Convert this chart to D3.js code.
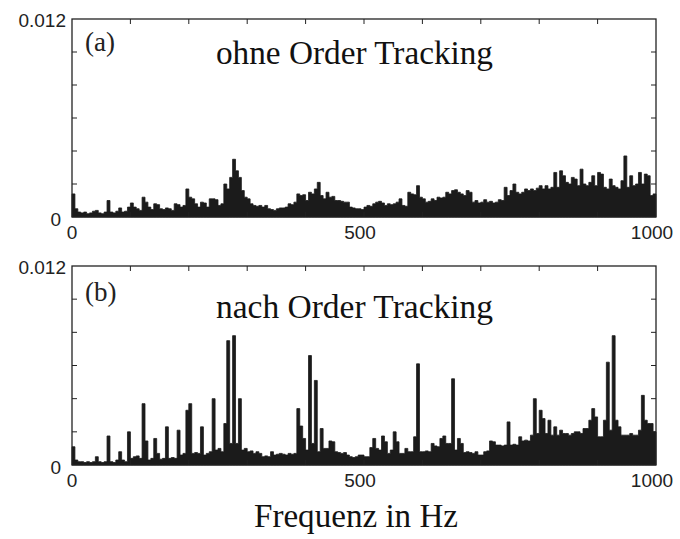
<!DOCTYPE html>
<html lang="de">
<head>
  <meta charset="UTF-8">
  <title>Spektrum ohne / nach Order Tracking</title>
  <script src="https://d3js.org/d3.v7.min.js"></script>
  <style>
    body { margin: 0; background: #fff; }
    .tick-label { font-family: "Liberation Sans", Arial, sans-serif; font-size: 19px; fill: #222; }
    .title { font-family: "Liberation Serif", "Times New Roman", serif; font-size: 33px; fill: #111; }
    .panel-tag { font-family: "Liberation Serif", "Times New Roman", serif; font-size: 27px; fill: #222; }
  </style>
</head>
<body>
  <svg width="680" height="539"></svg>

  <script>
    // frequency grid (Hz), one amplitude value per 5 Hz bin
    const freqStep = 5;
    const freqs = d3.range(0, 1000, freqStep);

    // amplitudes, in units of 1e-3
    // (a) ohne Order Tracking
    const ampWithout = [
      1.4, 0.5, 0.3, 0.25, 0.3, 0.2, 0.25, 0.35, 0.4, 0.25,
      0.2, 0.3, 1.0, 0.3, 0.25, 0.35, 0.55, 0.3, 0.35, 0.6,
      0.85, 0.6, 0.5, 0.4, 1.2, 0.9, 0.6, 0.45, 0.8, 0.75,
      0.5, 0.45, 0.55, 0.5, 0.4, 0.8, 0.75, 0.6, 0.7, 1.7,
      1.2, 1.1, 0.8, 0.6, 0.9, 0.85, 0.6, 1.1, 1.1, 1.05,
      0.7, 0.8, 2.0, 1.7, 2.4, 3.5, 2.8, 2.4, 1.6, 1.2,
      1.1, 0.8, 0.7, 0.65, 0.7, 0.6, 0.7, 0.5, 0.45, 0.4,
      0.5, 0.55, 0.55, 0.6, 0.8, 0.75, 0.9, 1.4, 1.3, 1.35,
      1.0, 1.5, 1.4, 1.7, 2.1, 1.3, 1.1, 1.5, 1.2, 1.25,
      1.0, 1.0, 0.95, 0.9, 0.9, 0.6, 0.55, 0.5, 0.5, 0.45,
      0.6, 0.7, 0.65, 0.8, 0.9, 0.95, 0.85, 0.7, 0.8, 0.75,
      0.8, 0.9, 1.1, 0.7, 0.65, 1.5, 1.4, 1.35, 1.9, 1.2,
      1.1, 0.9, 0.95, 1.1, 1.0, 1.2, 1.15, 1.2, 1.5, 1.4,
      1.6, 1.65, 1.5, 1.4, 1.3, 1.6, 1.5, 0.9, 1.0, 0.85,
      0.9, 1.05, 0.9, 0.95, 0.85, 0.9, 1.05, 1.0, 1.8, 1.3,
      1.6, 2.0, 1.5, 1.4, 1.5, 1.7, 1.6, 1.7, 1.6, 1.75,
      1.9, 1.7, 1.9, 1.7, 1.8, 2.7, 1.8, 2.8, 2.5, 2.1,
      2.0, 2.4, 2.3, 1.9, 2.9, 2.0, 1.9, 2.1, 2.5, 1.9,
      2.7, 2.6, 1.8, 1.7, 2.3, 1.9, 1.8, 1.7, 2.2, 3.7,
      1.8, 2.5, 1.9, 2.0, 2.7, 2.0, 2.6, 2.5, 1.3, 1.4
    ];

    // (b) nach Order Tracking
    const ampWith = [
      1.1, 0.3, 0.2, 0.2, 0.15, 0.2, 0.15, 0.2, 0.5, 0.2,
      0.15, 0.2, 1.75, 0.2, 0.15, 0.3, 0.8, 0.3, 0.2, 2.0,
      0.4, 0.5, 0.55, 0.4, 3.7, 1.45, 0.3, 0.4, 1.6, 0.7,
      0.35, 0.4, 2.3, 0.4, 0.45, 0.4, 2.1, 0.6, 0.7, 3.3,
      3.7, 0.7, 0.75, 0.7, 2.3, 0.6, 0.7, 0.8, 4.0, 0.9,
      1.0, 0.8, 2.5, 7.5, 1.3, 7.8, 1.3, 4.0, 0.9, 1.0,
      0.8, 0.85, 0.7, 0.8, 0.7, 0.5, 0.55, 0.5, 0.8, 0.6,
      0.65, 0.7, 0.65, 0.6, 0.7, 0.65, 0.7, 3.4, 2.35, 1.6,
      0.9, 6.6, 1.3, 5.1, 0.8, 2.2, 1.0, 1.0, 1.45, 1.4,
      0.8, 0.75, 0.7, 0.75, 0.6, 0.5, 0.45, 0.5, 0.6, 0.6,
      0.5, 0.5, 1.05, 1.6, 1.0, 0.9, 1.75, 1.4, 0.7, 0.9,
      2.0, 1.4, 0.7, 0.7, 1.0, 0.8, 0.8, 1.7, 6.1, 0.8,
      0.8, 0.85, 0.8, 1.3, 1.15, 1.1, 1.6, 1.75, 1.3, 1.3,
      5.2, 0.9, 1.6, 1.3, 0.75, 0.8, 0.75, 0.7, 0.8, 0.6,
      0.6, 0.8, 0.85, 1.45, 1.4, 1.2, 1.2, 1.15, 1.2, 2.6,
      1.2, 1.25, 1.2, 1.7, 1.45, 1.5, 1.45, 1.8, 4.0, 1.9,
      3.3, 2.8, 1.9, 2.7, 1.8, 2.3, 1.8, 2.1, 1.9, 1.9,
      1.8, 1.9, 2.0, 2.0, 1.9, 2.2, 2.2, 2.7, 3.4, 2.9,
      1.7, 1.7, 2.7, 6.2, 2.1, 7.8, 2.7, 2.3, 1.8, 1.8,
      1.8, 1.9, 1.8, 1.8, 2.1, 4.2, 2.7, 2.5, 2.5, 2.0
    ];

    const xTickLabels = [0, 500, 1000];
    const yTickLabels = [0, 0.012];
    const panelTags = ["(a)", "(b)"];
    const panelTitles = ["ohne Order Tracking", "nach Order Tracking"];
    const xAxisTitle = "Frequenz in Hz";

    const svg = d3.select("svg");

    const panels = [
      {amp: ampWithout, top: 19, bottom: 217, tag: panelTags[0], title: panelTitles[0], titleY: 64, tagY: 51},
      {amp: ampWith,    top: 266, bottom: 465, tag: panelTags[1], title: panelTitles[1], titleY: 318, tagY: 301}
    ];

    const x = d3.scaleLinear().domain([0, 1000]).range([72, 656]);

    panels.forEach(p => {
      const y = d3.scaleLinear().domain([0, 0.012]).range([p.bottom, p.top]);
      const g = svg.append("g");

      const pts = freqs.map((f, i) => ({f: f, v: p.amp[i] * 1e-3}));
      pts.push({f: 1000, v: pts[pts.length - 1].v});

      // spectrum
      g.append("path")
        .datum(pts)
        .attr("fill", "#1b1b1b")
        .attr("stroke", "#1b1b1b")
        .attr("stroke-width", 0.8)
        .attr("d", d3.area()
          .curve(d3.curveStepAfter)
          .x(d => x(d.f))
          .y0(y(0))
          .y1(d => y(d.v)));

      // inward ticks on all four sides
      const xt = d3.range(100, 1000, 100);
      const yt = d3.range(0.002, 0.012, 0.002);
      g.selectAll(".tt").data(xt).join("line")
        .attr("x1", d => x(d)).attr("x2", d => x(d))
        .attr("y1", p.top).attr("y2", p.top + 5)
        .attr("stroke", "#222").attr("stroke-width", 1);
      g.selectAll(".tb").data(xt).join("line")
        .attr("x1", d => x(d)).attr("x2", d => x(d))
        .attr("y1", p.bottom).attr("y2", p.bottom - 5)
        .attr("stroke", "#222").attr("stroke-width", 1);
      g.selectAll(".tl").data(yt).join("line")
        .attr("x1", x(0)).attr("x2", x(0) + 5)
        .attr("y1", d => y(d)).attr("y2", d => y(d))
        .attr("stroke", "#222").attr("stroke-width", 1);
      g.selectAll(".tr").data(yt).join("line")
        .attr("x1", x(1000)).attr("x2", x(1000) - 5)
        .attr("y1", d => y(d)).attr("y2", d => y(d))
        .attr("stroke", "#222").attr("stroke-width", 1);

      // frame
      g.append("rect")
        .attr("x", x(0)).attr("y", p.top)
        .attr("width", x(1000) - x(0)).attr("height", p.bottom - p.top)
        .attr("fill", "none").attr("stroke", "#222").attr("stroke-width", 1.3);

      // tick labels
      g.selectAll(".xl").data(xTickLabels).join("text")
        .attr("class", "tick-label")
        .attr("x", d => x(d) + (d === 0 ? 0 : -4))
        .attr("y", p.bottom + 22)
        .attr("text-anchor", "middle")
        .text(d => d);
      g.selectAll(".yl").data(yTickLabels).join("text")
        .attr("class", "tick-label")
        .attr("x", d => d === 0 ? 61 : 66)
        .attr("y", d => y(d) + (d === 0 ? 9 : 8))
        .attr("text-anchor", "end")
        .text(d => d === 0 ? "0" : "0.012");

      g.append("text").attr("class", "panel-tag")
        .attr("x", 85).attr("y", p.tagY).text(p.tag);
      g.append("text").attr("class", "title")
        .attr("x", 216).attr("y", p.titleY)
        .attr("textLength", 277).attr("lengthAdjust", "spacingAndGlyphs")
        .text(p.title);
    });

    svg.append("text").attr("class", "title")
      .attr("x", 254).attr("y", 527)
      .attr("textLength", 204).attr("lengthAdjust", "spacingAndGlyphs")
      .text(xAxisTitle);
  </script>
</body>
</html>
